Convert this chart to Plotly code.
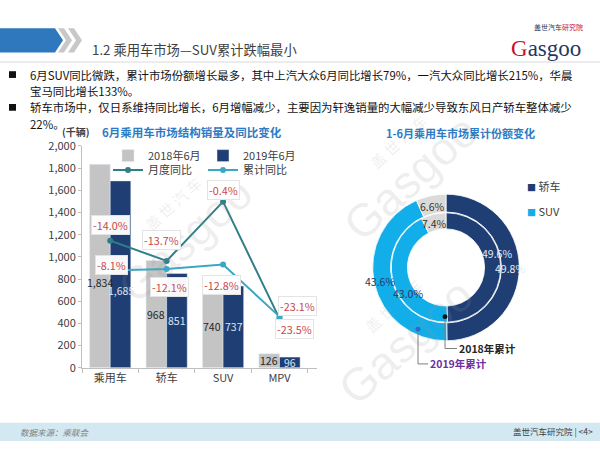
import math
import plotly.graph_objects as go

W, H = 600, 450
def X(p): return p / W
def Y(p): return 1 - p / H

FONT = "Noto Sans CJK SC"

# ---------------- data ----------------
categories = ["乘用车", "轿车", "SUV", "MPV"]
sales_2018_jun = [1834, 968, 740, 126]
sales_2019_jun = [1685, 851, 737, 96]
yoy_monthly = [-8.1, -12.1, -0.4, -23.5]
yoy_cumulative = [-14.0, -13.7, -12.8, -23.1]
y_ticks = [0, 200, 400, 600, 800, 1000, 1200, 1400, 1600, 1800, 2000]

share_labels = ["轿车", "SUV", "其他"]
share_2018 = [49.6, 43.0, 7.4]
share_2019 = [49.8, 43.6, 6.6]

header_title = "1.2 乘用车市场—SUV累计跌幅最小"
bullet_lines = [
    "6月SUV同比微跌，累计市场份额增长最多，其中上汽大众6月同比增长79%，一汽大众同比增长215%，华晨",
    "宝马同比增长133%。",
    "轿车市场中，仅日系维持同比增长，6月增幅减少，主要因为轩逸销量的大幅减少导致东风日产轿车整体减少",
    "22%。",
]

# ---------------- styles / label placement (pixels) ----------------
GRAY_BAR = "#C4C4C4"
NAVY = "#1F3F74"
TEAL_DARK = "#2E7F87"
TEAL_LIGHT = "#3AA8C4"
SKY = "#12AEEA"
OTHER = "#DADADA"
LABEL_RED = "#C9474B"
TITLE_BLUE = "#2E7BC4"

monthly_label_shift = [(1, -24), (3, -26), (0, 12), (15, -10)]
cumulative_label_shift = [(0, 46), (-5, 29), (-2, -21), (18, 11)]
bar_half = 10.7
bar_label_dy = [-16, 0, 0, 0]

fig = go.Figure()

fig.add_trace(go.Bar(x=categories, y=sales_2018_jun, name="2018年6月",
                     marker_color=GRAY_BAR, legend="legend", hoverinfo="skip"))
fig.add_trace(go.Bar(x=categories, y=sales_2019_jun, name="2019年6月",
                     marker_color=NAVY, legend="legend", hoverinfo="skip"))
fig.add_trace(go.Scatter(x=categories, y=yoy_monthly, yaxis="y2", name="月度同比",
                         mode="lines+markers", line=dict(color=TEAL_DARK, width=2),
                         marker=dict(size=6, color=TEAL_DARK), legend="legend2", hoverinfo="skip"))
fig.add_trace(go.Scatter(x=categories, y=yoy_cumulative, yaxis="y2", name="累计同比",
                         mode="lines+markers", line=dict(color=TEAL_LIGHT, width=2),
                         marker=dict(size=6, color=TEAL_LIGHT), legend="legend2", hoverinfo="skip"))

# donut: outer ring = 2019, inner ring = 2018
cx, cy = 446, 268
r_out, r_mid, r_in = 76, 57.5, 40
slice_text_colors = ["#E6ECF5", "#1F3864", "#333333"]
for vals, r0, r1 in ((share_2019, r_mid, r_out), (share_2018, r_in, r_mid - 0.8)):
    fig.add_trace(go.Pie(labels=share_labels, values=vals, sort=False, direction="clockwise",
                         rotation=0, hole=r0 / r1,
                         domain=dict(x=[X(cx - r1), X(cx + r1)], y=[Y(cy + r1), Y(cy - r1)]),
                         marker=dict(colors=[NAVY, SKY, OTHER], line=dict(color="white", width=0.8)),
                         textinfo="none", showlegend=False, hoverinfo="skip"))

annotations = []
shapes = []

def txt(x, y, text, size=11, color="#404040", xanchor="left", yanchor="middle", **kw):
    annotations.append(dict(x=X(x), y=Y(y), xref="paper", yref="paper", text=text,
                            showarrow=False, xanchor=xanchor, yanchor=yanchor,
                            font=dict(size=size, color=color, family=kw.pop("family", FONT)), **kw))

# watermarks
wm = "rgba(150,150,150,0.16)"
for (wx, wy, s1, s2) in [(185, 240, 15, 46), (410, 175, 15, 46), (405, 345, 15, 46)]:
    txt(wx, wy, "Gasgoo", size=s2, color=wm, xanchor="center", textangle=-42, family="Liberation Sans")
    txt(wx - 12, wy - 38, "盖 世 汽 车", size=s1, color=wm, xanchor="center", textangle=-42)

# donut slice labels, placed at each slice's mid-angle
def ring_labels(values, radius, nudges):
    total = sum(values)
    cum = 0
    for i, v in enumerate(values):
        ang = math.radians((cum + v / 2) / total * 360)
        cum += v
        lx = cx + radius * math.sin(ang) + nudges[i][0]
        ly = cy - radius * math.cos(ang) + nudges[i][1]
        txt(lx, ly, f"{v:.1f}%", size=10.5, color=slice_text_colors[i], xanchor="center")

ring_labels(share_2019, 66, [(-2, 1), (-2, 1), (0, 1)])
ring_labels(share_2018, 49, [(2, -14), (10, 15), (0, 2)])

# header
shapes.append(dict(type="path", xref="paper", yref="paper",
                   path=f"M {X(0)},{Y(20)} L {X(55)},{Y(20)} L {X(63)},{Y(32.5)} L {X(55)},{Y(45)} L {X(0)},{Y(45)} Z",
                   fillcolor="#2F78BE", line=dict(width=0)))
for a in (58, 68):
    shapes.append(dict(type="path", xref="paper", yref="paper",
                       path=(f"M {X(a)},{Y(20)} L {X(a+6)},{Y(20)} L {X(a+14)},{Y(32.5)} L {X(a+6)},{Y(45)} "
                             f"L {X(a)},{Y(45)} L {X(a+8)},{Y(32.5)} Z"),
                       fillcolor="#C8C8C8", line=dict(width=0)))
shapes.append(dict(type="line", xref="paper", yref="paper", x0=0, x1=1, y0=Y(55), y1=Y(55),
                   line=dict(color="#D9D9D9", width=1)))
txt(90, 42, header_title, size=13.3, color="#404040")

# logo
txt(546, 41, "<span style='color:#C8102E'>G</span>asgoo", size=23, color="#1F3864",
    xanchor="center", family="Liberation Serif")
txt(558, 19, "盖世汽车<span style='color:#C8102E'>研究院</span>", size=7, color="#1F3864", xanchor="center")

# bullets
bullet_y = [68, 85, 102, 119]
for i, line in enumerate(bullet_lines):
    txt(28, bullet_y[i], line, size=11.4, color="#111111")
for i in (0, 2):
    shapes.append(dict(type="rect", xref="paper", yref="paper", x0=X(9), x1=X(16),
                       y0=Y(bullet_y[i] + 3.5), y1=Y(bullet_y[i] - 3.5),
                       fillcolor="#111111", line=dict(width=0)))

# chart titles
txt(192, 128, "<b>6月乘用车市场结构销量及同比变化</b>", size=11.5, color=TITLE_BLUE, xanchor="center")
txt(76, 127, "<b>(千辆)</b>", size=10, color="#404040", xanchor="center")
txt(460, 129, "<b>1-6月乘用车市场累计份额变化</b>", size=11, color=TITLE_BLUE, xanchor="center")

# bar value labels
for i, c in enumerate(categories):
    annotations.append(dict(x=c, y=sales_2018_jun[i] / 2, xref="x", yref="y", text=f"{sales_2018_jun[i]:,}",
                            showarrow=False, xshift=-bar_half, yshift=bar_label_dy[i],
                            font=dict(size=10.5, color="#262626", family=FONT)))
    annotations.append(dict(x=c, y=sales_2019_jun[i] / 2, xref="x", yref="y", text=f"{sales_2019_jun[i]:,}",
                            showarrow=False, xshift=bar_half, yshift=bar_label_dy[i],
                            font=dict(size=10.5, color="#DCE6F2", family=FONT)))

# line value labels
for vals, shifts in ((yoy_monthly, monthly_label_shift), (yoy_cumulative, cumulative_label_shift)):
    for i, c in enumerate(categories):
        annotations.append(dict(x=c, y=vals[i], xref="x", yref="y2", text=f"{vals[i]:.1f}%",
                                showarrow=False, xshift=shifts[i][0], yshift=shifts[i][1],
                                bgcolor="rgba(255,255,255,0.96)", bordercolor="#E4E4E4", borderwidth=1,
                                borderpad=1, font=dict(size=10.8, color=LABEL_RED, family=FONT)))

# donut legend
txt(525, 184, f"<span style='color:{NAVY};font-size:9px'>■</span> 轿车", size=11, color="#404040")
txt(525, 209, f"<span style='color:{SKY};font-size:9px'>■</span> SUV", size=11, color="#404040")

# donut pointers
shapes.append(dict(type="path", xref="paper", yref="paper",
                   path=f"M {X(445)},{Y(319)} L {X(445)},{Y(352)} L {X(457)},{Y(352)}",
                   line=dict(color="#7F7F7F", width=1)))
shapes.append(dict(type="circle", xref="paper", yref="paper", x0=X(442.5), x1=X(447.5),
                   y0=Y(321.5), y1=Y(316.5), fillcolor="#111111", line=dict(width=0)))
txt(457, 352, "<b>2018年累计</b>", size=10.5, color="#262626")
shapes.append(dict(type="path", xref="paper", yref="paper",
                   path=f"M {X(418)},{Y(332)} L {X(418)},{Y(368)} L {X(428)},{Y(368)}",
                   line=dict(color="#7F7F7F", width=1)))
shapes.append(dict(type="circle", xref="paper", yref="paper", x0=X(415.5), x1=X(420.5),
                   y0=Y(334.5), y1=Y(329.5), fillcolor="#3366CC", line=dict(width=0)))
txt(428, 368, "<b>2019年累计</b>", size=10.5, color="#7030A0")

# footer
shapes.append(dict(type="rect", xref="paper", yref="paper", x0=0, x1=1, y0=Y(448), y1=Y(429),
                   fillcolor="#D3E8F0", line=dict(width=0), layer="below"))
txt(18, 438.5, "<i>数据来源：乘联会</i>", size=8.5, color="#7F7F7F")
txt(595, 438.5, "盖世汽车研究院 | &lt;4&gt;", size=8.5, color="#404040", xanchor="right")

axis_col = "#BFBFBF"
fig.update_layout(
    width=W, height=H, autosize=False,
    margin=dict(l=0, r=0, t=0, b=0),
    paper_bgcolor="white", plot_bgcolor="white",
    font=dict(family=FONT, size=11, color="#404040"),
    barmode="group", bargap=0.27, bargroupgap=0,
    xaxis=dict(domain=[X(82), X(317)], anchor="y", type="category", showline=True, linecolor=axis_col,
               ticks="outside", tickson="boundaries", ticklen=4, tickcolor=axis_col,
               tickfont=dict(size=11, color="#404040"), showgrid=False, fixedrange=True),
    yaxis=dict(domain=[Y(372), Y(142)], range=[0, 2000], tickvals=y_ticks, tickformat=",",
               showline=True, linecolor=axis_col, ticks="outside", ticklen=3, tickcolor=axis_col,
               showgrid=False, zeroline=False, tickfont=dict(size=11, color="#404040")),
    yaxis2=dict(overlaying="y", range=[-33.2, 10.6], visible=False),
    legend=dict(orientation="h", x=X(108), y=Y(152), xanchor="left", yanchor="middle",
                entrywidth=50, entrywidthmode="pixels", itemwidth=30,
                bgcolor="rgba(0,0,0,0)", font=dict(size=11, color="#404040")),
    legend2=dict(orientation="h", x=X(108), y=Y(167), xanchor="left", yanchor="middle",
                 entrywidth=50, entrywidthmode="pixels", itemwidth=30,
                 bgcolor="rgba(0,0,0,0)", font=dict(size=11, color="#404040")),
    annotations=annotations,
    shapes=shapes,
)

fig.write_html("out.html", config={"displayModeBar": False},
               post_script="document.body.style.margin='0';")
